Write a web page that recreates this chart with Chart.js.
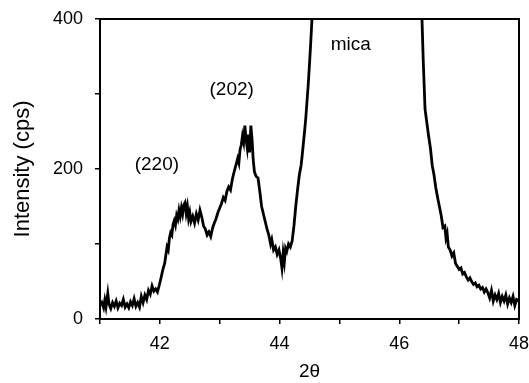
<!DOCTYPE html>
<html>
<head>
<meta charset="utf-8">
<script src="https://cdn.jsdelivr.net/npm/chart.js@4"></script>
<style>
  html, body { margin: 0; padding: 0; background: #fff; }
  #wrap { width: 529px; height: 383px; }
</style>
</head>
<body>
<div id="wrap"><canvas id="xrd"></canvas></div>
<script>
// XRD scan, 2-theta vs intensity
const twoTheta = [
  41.00, 41.03, 41.06, 41.08, 41.10, 41.13, 41.15, 41.18, 41.21, 41.24, 41.27, 41.30, 41.33, 41.36, 41.39,
  41.42, 41.45, 41.48, 41.51, 41.54, 41.57, 41.60, 41.63, 41.66, 41.69, 41.72, 41.75, 41.78, 41.81, 41.84,
  41.87, 41.90, 41.93, 41.96, 41.99, 42.02, 42.05, 42.08, 42.10, 42.12, 42.14, 42.16, 42.18, 42.20, 42.22,
  42.24, 42.26, 42.28, 42.30, 42.32, 42.34, 42.36, 42.38, 42.40, 42.42, 42.44, 42.46, 42.48, 42.50, 42.52,
  42.55, 42.58, 42.61, 42.64, 42.67, 42.70, 42.73, 42.76, 42.79, 42.82, 42.85, 42.88, 42.91, 42.94, 42.97,
  43.00, 43.03, 43.06, 43.09, 43.12, 43.15, 43.18, 43.21, 43.24, 43.27, 43.30, 43.32, 43.34, 43.36, 43.38,
  43.40, 43.42, 43.44, 43.46, 43.48, 43.50, 43.52, 43.54, 43.56, 43.58, 43.61, 43.64, 43.67, 43.70, 43.73,
  43.76, 43.79, 43.82, 43.85, 43.87, 43.90, 43.93, 43.96, 43.99, 44.02, 44.04, 44.06, 44.08, 44.10, 44.12,
  44.15, 44.18, 44.21, 44.24, 44.27, 44.30, 44.33, 44.36, 44.38, 44.40, 44.42, 44.44, 44.46, 44.48, 44.50,
  44.52, 44.54, 44.60, 44.80, 45.20, 45.60, 46.00, 46.25, 46.35, 46.38, 46.40, 46.43, 46.46, 46.49, 46.52,
  46.55, 46.58, 46.61, 46.64, 46.67, 46.70, 46.73, 46.76, 46.78, 46.80, 46.82, 46.85, 46.88, 46.91, 46.94,
  46.97, 47.00, 47.03, 47.06, 47.09, 47.12, 47.15, 47.18, 47.21, 47.24, 47.27, 47.30, 47.33, 47.36, 47.39,
  47.42, 47.45, 47.48, 47.51, 47.54, 47.57, 47.60, 47.63, 47.66, 47.69, 47.72, 47.75, 47.78, 47.81, 47.84,
  47.87, 47.90, 47.93, 47.96, 48.00
];
const intensity = [
  18, 22, 15, 25, 16, 34, 20, 14, 22, 17, 24, 15, 21, 18, 26,
  16, 20, 15, 23, 18, 27, 17, 22, 16, 30, 22, 32, 26, 38, 33,
  44, 37, 40, 36, 45, 55, 66, 74, 85, 96, 92, 108, 115, 112, 126,
  131, 125, 138, 133, 145, 137, 148, 140, 152, 155, 141, 150, 134, 142, 130,
  137, 128, 140, 132, 145, 136, 124, 120, 112, 116, 110, 121, 128, 134, 142,
  148, 154, 162, 158, 170, 176, 172, 186, 196, 205, 214, 208, 226, 232, 244,
  236, 258, 240, 228, 246, 222, 258, 240, 212, 196, 190, 188, 170, 150, 140,
  130, 120, 112, 100, 106, 92, 96, 86, 92, 80, 68, 88, 76, 94, 90,
  100, 96, 104, 124, 150, 172, 192, 205, 220, 236, 252, 270, 292, 314, 340,
  368, 398, 520, 900, 1500, 1400, 900, 520, 410, 398, 345, 280, 262, 244, 228,
  205, 192, 175, 162, 150, 138, 122, 124, 108, 114, 96, 92, 84, 88, 74,
  70, 66, 68, 60, 62, 56, 52, 55, 50, 46, 48, 43, 45, 40, 42,
  36, 40, 35, 28, 38, 24, 32, 26, 34, 22, 30, 24, 32, 20, 28,
  22, 30, 18, 26, 24
];

const xTicks = [42, 44, 46, 48];
const yTicks = [0, 200, 400];

const peakNames = ['(220)', '(202)', 'mica'];
const peakX = [41.95, 43.2, 45.19];
const peakY = [205, 305, 365];

const FONT = "'Liberation Sans', Arial, Helvetica, sans-serif";

const framePlugin = {
  id: 'frame',
  afterDatasetsDraw(chart) {
    const { ctx, chartArea: a, scales } = chart;
    ctx.save();
    ctx.strokeStyle = '#000';
    ctx.lineWidth = 2;
    ctx.strokeRect(a.left, a.top, a.right - a.left, a.bottom - a.top);

    ctx.fillStyle = '#000';
    ctx.font = '19px ' + FONT;
    ctx.textAlign = 'center';
    ctx.textBaseline = 'middle';
    peakNames.forEach((txt, i) => {
      ctx.fillText(txt, scales.x.getPixelForValue(peakX[i]), scales.y.getPixelForValue(peakY[i]));
    });
    ctx.restore();
  }
};

// keep label overhang from pushing the plot area around
function noOverhang(s) {
  s.paddingTop = 0; s.paddingBottom = 0; s.paddingLeft = 0; s.paddingRight = 0;
}

new Chart(document.getElementById('xrd'), {
  type: 'line',
  data: {
    datasets: [{
      data: twoTheta.map((t, i) => ({ x: t, y: intensity[i] })),
      borderColor: '#000',
      borderWidth: 2.8,
      pointRadius: 0,
      tension: 0,
      fill: false,
    }],
  },
  options: {
    responsive: true,
    maintainAspectRatio: false,
    animation: false,
    layout: { padding: { left: 0, top: 19, right: 10, bottom: 0 } },
    plugins: { legend: { display: false }, tooltip: { enabled: false } },
    scales: {
      x: {
        type: 'linear',
        min: 41, max: 48,
        afterFit: (s) => { s.height = 64; noOverhang(s); },
        border: { display: false },
        grid: { drawOnChartArea: false, color: '#000', tickLength: 5, lineWidth: 1.5 },
        ticks: {
          stepSize: 1,
          color: '#000',
          padding: 9,
          font: { family: FONT, size: 18 },
          callback: (v) => xTicks.includes(v) ? String(v) : '',
        },
        title: {
          display: true,
          text: '2θ',
          color: '#000',
          font: { family: FONT, size: 19 },
          padding: { top: 0, bottom: 0 },
        },
      },
      y: {
        min: 0, max: 400,
        afterFit: (s) => { s.width = 100; noOverhang(s); },
        border: { display: false },
        grid: { drawOnChartArea: false, color: '#000', tickLength: 5, lineWidth: 1.5 },
        ticks: {
          stepSize: 100,
          color: '#000',
          padding: 12,
          font: { family: FONT, size: 18 },
          callback: (v) => yTicks.includes(v) ? String(v) : '',
        },
        title: {
          display: true,
          text: 'Intensity (cps)',
          color: '#000',
          font: { family: FONT, size: 22 },
          padding: { top: 10, bottom: 0 },
        },
      },
    },
  },
  plugins: [framePlugin],
});
</script>
</body>
</html>
